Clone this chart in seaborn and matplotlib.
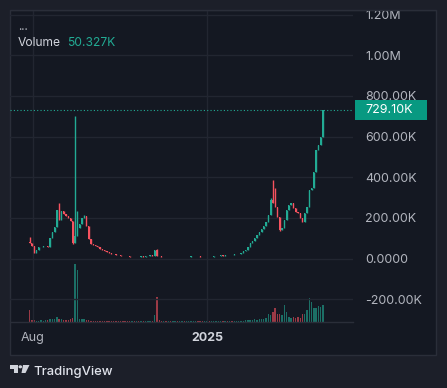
import numpy as np
import pandas as pd
import matplotlib
matplotlib.use("Agg")
import matplotlib.pyplot as plt
import matplotlib.dates as mdates
from matplotlib.patches import Rectangle, Polygon, Circle
import seaborn as sns

# dados: candles de 2 dias, fechamento e volume em milhares (K)
close_k = [
    76, 60, 27, 40, 55, 58, 60, 62, 57, 100,
    132, 156, 240, 190, 235, 220, 210, 200, 185, 78,
    110, 150, 170, 200, 210, 160, 95, 70, 66, 60,
    56, 45, 42, 36, 30, 26, 23, 20, 17, 16,
    14, 12, 11, 10, 9, 9, 8, 9, 8, 10,
    9, 11, 13, 17, 14, 40, 12, 10, 9, 9,
    8, 9, 8, 8, 9, 8, 8, 9, 8, 8,
    9, 10, 12, 14, 11, 9, 8, 9, 9, 8,
    9, 10, 12, 13, 15, 14, 17, 16, 19, 18,
    20, 21, 22, 26, 35, 42, 55, 75, 85, 99,
    115, 132, 145, 160, 180, 215, 290, 272, 255, 206,
    140, 150, 189, 239, 263, 272, 247, 230, 222, 198,
    181, 225, 255, 337, 345, 427, 534, 558, 600, 729.1,
]
volume_k = [
    35, 6, 5, 4, 4, 5, 4, 5, 6, 10,
    8, 9, 14, 10, 8, 6, 5, 5, 8, 12,
    172, 155, 8, 9, 10, 6, 5, 4, 4, 3,
    3, 4, 3, 3, 3, 2, 2, 3, 2, 2,
    2, 2, 2, 2, 2, 2, 2, 2, 2, 2,
    2, 2, 3, 4, 3, 20, 74, 5, 3, 2,
    2, 2, 2, 2, 2, 2, 2, 2, 2, 2,
    2, 2, 3, 3, 2, 2, 2, 2, 2, 2,
    2, 2, 2, 3, 3, 3, 3, 3, 3, 3,
    3, 3, 3, 3, 4, 5, 6, 5, 6, 8,
    7, 9, 8, 10, 12, 24, 20, 30, 41, 24,
    25, 20, 50, 30, 14, 12, 15, 13, 15, 12,
    24, 24, 35, 71, 59, 40, 41, 47, 45, 50.327,
]
first_open_k = 80
high_k = {0: 107, 13: 272, 20: 700, 21: 235, 24: 215, 56: 47, 106: 300, 107: 386, 108: 347}
low_k = {19: 70, 110: 135}

dates = pd.date_range("2024-07-29", periods=len(close_k), freq="2D")
df = pd.DataFrame({"date": dates, "close": np.array(close_k) * 1000, "volume": np.array(volume_k) * 1000})
df["open"] = [first_open_k * 1000] + list(df["close"].iloc[:-1])
df["high"] = df[["open", "close"]].max(axis=1)
df["low"] = df[["open", "close"]].min(axis=1)
for i, v in high_k.items():
    df.loc[i, "high"] = v * 1000
for i, v in low_k.items():
    df.loc[i, "low"] = v * 1000

# estilo
sns.set_theme(style="dark")
plt.rcParams["font.family"] = ["Inter", "DejaVu Sans"]

TEAL = "#22ab94"
RED = "#f7525f"
BG_OUT = "#1c1f29"
BG_IN = "#141822"
GRID = "#222631"
TXT = "#b2b5be"

W, H = 447, 388
fig = plt.figure(figsize=(W / 100, H / 100), dpi=100, facecolor=BG_OUT)


def rect(x0, y0, x1, y1):
    return [x0 / W, 1 - y1 / H, (x1 - x0) / W, (y1 - y0) / H]


def fxy(x, y):
    return (x / W, 1 - y / H)


# painel
fig.patches.append(Rectangle(fxy(10, 355), 426 / W, 345 / H, transform=fig.transFigure,
                             facecolor=BG_IN, edgecolor="#2a2e39", lw=1, zorder=-5))

ax_v = fig.add_axes(rect(10, 10, 353, 322))
ax = fig.add_axes(rect(10, 10, 353, 322), sharex=ax_v)
for a in (ax, ax_v):
    a.set_facecolor("none")

up = df["close"] >= df["open"]
cols = np.where(up, TEAL, RED)

# volume
ax_v.bar(df["date"], df["volume"], width=1.2, color=cols, alpha=0.6, linewidth=0)
ax_v.set_ylim(0, 923000)
ax_v.axis("off")

# candles
ax.vlines(df["date"], df["low"], df["high"], colors=cols, lw=1.0)
ax.bar(df["date"], df["close"] - df["open"], bottom=df["open"], width=1.1, color=cols, linewidth=0)

aug1 = mdates.date2num(pd.Timestamp("2024-08-01"))
ax.set_xlim(aug1 - 23 / 1.137, aug1 + 320 / 1.137)
ax.set_ylim(-312400, 1222600)

ax.yaxis.tick_right()
yt = np.arange(-200000, 1200001, 200000)
ax.set_yticks(yt)
ylabels = []
for v in yt:
    if v == 0:
        ylabels.append("0.0000")
    elif abs(v) >= 1000000:
        ylabels.append(f"{v / 1e6:.2f}M")
    else:
        ylabels.append(f"{v / 1e3:.2f}K")
ax.set_yticklabels(ylabels)
ax.tick_params(axis="y", length=0, pad=8.6, labelsize=9, labelcolor=TXT)

ax.set_xticks([aug1, mdates.date2num(pd.Timestamp("2025-01-01"))])
ax.set_xticklabels(["Aug", "2025"])
ax.tick_params(axis="x", length=0, pad=7, labelsize=9, labelcolor=TXT)
ax.get_xticklabels()[1].set_fontweight("bold")
ax.get_xticklabels()[1].set_color("#d1d4dc")

ax.grid(True, color=GRID, lw=1)
for s in ["top", "left", "right"]:
    ax.spines[s].set_visible(False)
ax.spines["bottom"].set_color("#2a2e39")
ax.spines["bottom"].set_linewidth(1)

# linha de preço e etiqueta
last = df["close"].iloc[-1]
ax.axhline(last, color=TEAL, lw=0.8, ls=(0, (1, 2)))
y_disp = ax.transData.transform((0, last))[1]
y_px = H - y_disp
fig.patches.append(Rectangle(fxy(355, y_px + 10), 72 / W, 20 / H, transform=fig.transFigure,
                             facecolor="#089981", edgecolor="none", zorder=5))
fig.text(365 / W, 1 - y_px / H, f"{last / 1000:.2f}K", color="white", fontsize=9,
         va="center", ha="left", zorder=6)

# faixa superior cobrindo rótulo cortado
fig.patches.append(Rectangle((0, 1 - 9.5 / H), 1, 9.5 / H, transform=fig.transFigure,
                             facecolor=BG_OUT, edgecolor="none", zorder=4))
fig.add_artist(plt.Line2D([10 / W, 436 / W], [1 - 10 / H, 1 - 10 / H], transform=fig.transFigure,
                          color="#2a2e39", lw=1, zorder=5))

# legenda
fig.text(18 / W, 1 - 27 / H, "...", color=TXT, fontsize=8.5, va="center")
fig.text(18 / W, 1 - 43 / H, "Volume", color="#d1d4dc", fontsize=8.7, va="center")
fig.text(67 / W, 1 - 43 / H, f"{volume_k[-1]:.3f}K", color=TEAL, fontsize=8.7, va="center")

# logo TradingView
fig.patches.append(Polygon([fxy(9.5, 365), fxy(17.5, 365), fxy(17.5, 373), fxy(13.5, 373),
                            fxy(13.5, 368.5), fxy(9.5, 368.5)], closed=True,
                           transform=fig.transFigure, facecolor="#d1d4dc", edgecolor="none"))
fig.patches.append(Circle(fxy(20.3, 366.8), 1.8 / W, transform=fig.transFigure,
                          facecolor="#d1d4dc", edgecolor="none"))
fig.patches.append(Polygon([fxy(23, 365), fxy(29.5, 365), fxy(25.5, 373), fxy(21.5, 373)], closed=True,
                           transform=fig.transFigure, facecolor="#d1d4dc", edgecolor="none"))
fig.text(33 / W, 1 - 371.5 / H, "TradingView", color="#e0e3eb", fontsize=9.4,
         fontweight="medium", va="center")

fig.savefig("out.png", dpi=100, facecolor=BG_OUT)
